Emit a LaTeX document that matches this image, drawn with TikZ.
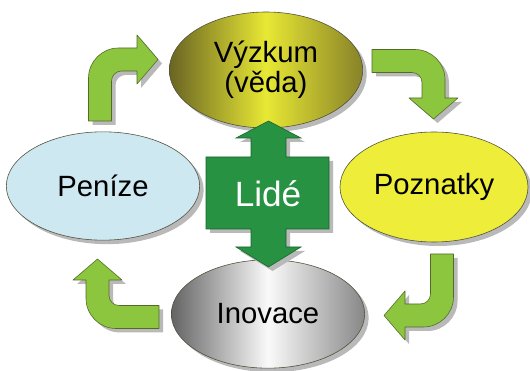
\documentclass[tikz,border=0pt]{standalone}
\usepackage{fontspec}
\setmainfont{Liberation Sans}
\usetikzlibrary{shapes.geometric,shadows}

\definecolor{arrowgreen}{RGB}{140,198,63}
\definecolor{arrowedge}{RGB}{85,105,40}
\definecolor{hubgreen}{RGB}{38,146,66}
\definecolor{hubedge}{RGB}{25,100,45}
\definecolor{shadowgray}{RGB}{185,185,185}
\definecolor{edgegray}{RGB}{80,80,60}
\definecolor{oliveleft}{RGB}{105,100,35}
\definecolor{olivemid}{RGB}{232,232,52}
\definecolor{oliveright}{RGB}{135,130,40}
\definecolor{grayleft}{RGB}{100,100,100}
\definecolor{graymid}{RGB}{250,250,250}
\definecolor{grayright}{RGB}{135,135,135}
\definecolor{knowyellow}{RGB}{238,238,58}
\definecolor{moneyblue}{RGB}{205,232,240}

% bent block arrow, starts at origin going up, turns right
\newcommand{\bentarrow}{(-11.5,0) -- (-11.5,-43)
  .. controls (-11.5,-59.5) and (2,-73) .. (18.5,-73) -- (37,-73) -- (37,-86)
  -- (58,-61.5) -- (37,-37) -- (37,-50) -- (21.5,-50)
  .. controls (16,-50) and (11.5,-45.5) .. (11.5,-40) -- (11.5,0) -- cycle}

\begin{document}
\begin{tikzpicture}[
    x=0.3mm, y=-0.3mm,
    font=\fontsize{25}{26}\selectfont,
    stage/.style={ellipse, draw=edgegray, line width=0.5pt, inner sep=0pt,
      minimum width=58mm, minimum height=32.5mm, align=center,
      drop shadow={shadow xshift=1.2mm, shadow yshift=-1.2mm, fill=shadowgray, opacity=1}},
    turn/.style={fill=arrowgreen, draw=arrowedge, line width=0.5pt, line join=round},
    ghost/.style={fill=shadowgray, draw=none},
    hub/.style={fill=hubgreen, draw=hubedge, line width=0.5pt, line join=miter}
  ]
  \useasboundingbox (0,0) rectangle (530,371);

  % --- Curved Arrows ---
  \foreach \ox/\oy/\ang in {100/121/0, 372/61/-90, 442/254/180, 159/317/90} {
    \fill[ghost, shift={(\ox+4,\oy+4)}, rotate=\ang] \bentarrow;
    \draw[turn, shift={(\ox,\oy)}, rotate=\ang] \bentarrow;
  }

  % --- Stages ---
  \node[stage, left color=oliveleft, right color=oliveright, middle color=olivemid,
    minimum width=58mm, minimum height=34.8mm] (vyzkum) at (266,70) {Výzkum\\(věda)};
  \node[stage, fill=knowyellow, minimum width=56.4mm, minimum height=33mm] (poznatky) at (434,187) {Poznatky};
  \node[stage, left color=grayleft, right color=grayright, middle color=graymid] (inovace) at (268,314) {Inovace};
  \node[stage, fill=moneyblue] (penize) at (103,186) {Peníze};

  % --- People ---
  \fill[shadowgray, shift={(4,4)}] (251,138) -- (236,138) -- (268.5,121) -- (301,138) -- (286,138)
    -- (286,157) -- (329,157) -- (329,229) -- (286,229) -- (286,247) -- (301,247)
    -- (268.5,267) -- (236,247) -- (251,247) -- (251,229) -- (206,229) -- (206,157)
    -- (251,157) -- cycle;
  \draw[hub] (251,138) -- (236,138) -- (268.5,121) -- (301,138) -- (286,138)
    -- (286,157) -- (329,157) -- (329,229) -- (286,229) -- (286,247) -- (301,247)
    -- (268.5,267) -- (236,247) -- (251,247) -- (251,229) -- (206,229) -- (206,157)
    -- (251,157) -- cycle;
  \node[text=white, anchor=base, font=\fontsize{30}{36}\selectfont] (lide) at (268,207) {Lidé};

\end{tikzpicture}
\end{document}
